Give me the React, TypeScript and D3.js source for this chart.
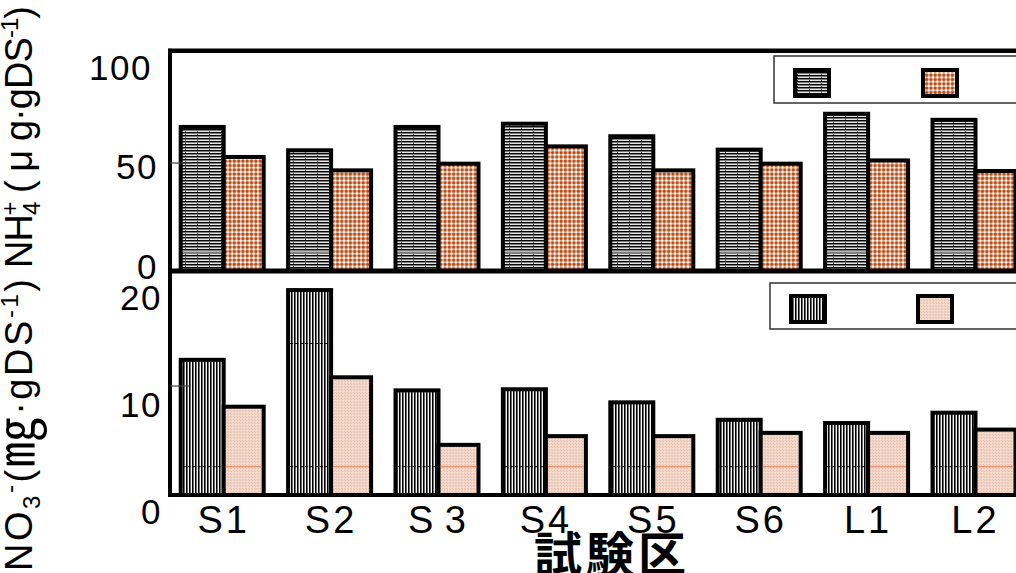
import React from "react";
import * as d3 from "d3";

// ---------- data ----------
const categories = ["S1", "S2", "S3", "S4", "S5", "S6", "L1", "L2"];
const xTickLabels = ["S1", "S2", "S 3", "S4", "S5", "S6", "L1", "L2"];
const nh4Series1 = [66.7, 55.9, 66.7, 68.2, 62.4, 56.2, 72.8, 70.0];
const nh4Series2 = [52.8, 46.6, 49.7, 57.7, 46.6, 49.7, 51.2, 46.3];
const no3Series1 = [12.4, 18.8, 9.6, 9.7, 8.5, 6.9, 6.6, 7.55];
const no3Series2 = [8.1, 10.8, 4.6, 5.4, 5.4, 5.7, 5.7, 6.0];
const nh4Ticks = [0, 50, 100];
const no3Ticks = [0, 10, 20];
const nh4HiddenGrid = [8.9];
const no3HiddenGrid = [2.6, 13.9];

const W = 1016;
const H = 573;
const FONT = "'Liberation Sans', Arial, sans-serif";

const x = d3.scaleBand<string>().domain(categories).range([170, 1029.2]).padding(0);
const yTop = d3.scaleLinear().domain([0, 102]).range([271, 50.7]);
const yBot = d3.scaleLinear().domain([0, 20.55]).range([495, 271]);
const yTopLab = d3.scaleLinear().domain([0, 100]).range([266, 67]);
const yBotLab = d3.scaleLinear().domain([0, 20]).range([511, 297]);

const DARK_W = 43;
const LIGHT_W = 40;

function Patterns() {
  return (
    <defs>
      <pattern id="pHoriz" patternUnits="userSpaceOnUse" width="12" height="3">
        <rect width="12" height="3" fill="#7a7a7a" />
        <rect y="0" width="12" height="1" fill="#0a0a0a" />
        <rect y="2" width="12" height="1" fill="#e4e4e4" />
        <rect x="5" y="2" width="1" height="1" fill="#444" />
      </pattern>
      <pattern id="pDots" patternUnits="userSpaceOnUse" width="4.3" height="4.3">
        <rect width="4.3" height="4.3" fill="#fff" />
        <rect x="1.1" y="0.4" width="2" height="3.5" fill="#b8480f" />
        <rect x="0.4" y="1.1" width="3.5" height="2" fill="#b8480f" />
      </pattern>
      <pattern id="pVert" patternUnits="userSpaceOnUse" width="3" height="10">
        <rect width="3" height="10" fill="#6a6a6a" />
        <rect x="0" width="1" height="10" fill="#000" />
        <rect x="2" width="1" height="10" fill="#f4f4f4" />
      </pattern>
      <pattern id="pPink" patternUnits="userSpaceOnUse" width="3" height="3">
        <rect width="3" height="3" fill="#f1d6c8" />
        <rect x="0" y="0" width="1" height="1" fill="#e6bfac" />
        <rect x="1" y="1" width="1" height="1" fill="#f7e4da" />
        <rect x="2" y="2" width="1" height="1" fill="#e6bfac" />
      </pattern>
    </defs>
  );
}

type PanelProps = {
  y: d3.ScaleLinear<number, number>;
  s1: number[];
  s2: number[];
  fill1: string;
  fill2: string;
  grid: number[];
  grid1Style: React.SVGProps<SVGLineElement>;
  grid2Style: React.SVGProps<SVGLineElement> | null;
};

function Panel({ y, s1, s2, fill1, fill2, grid, grid1Style, grid2Style }: PanelProps) {
  return (
    <g>
      {categories.map((cat, i) => {
        const c = (x(cat) as number) + x.bandwidth() / 2;
        const v1 = s1[i];
        const v2 = s2[i];
        const dx = c - DARK_W;
        const lx = c;
        return (
          <g key={cat}>
            <rect x={dx} y={y(v1)} width={DARK_W} height={y(0) - y(v1)} fill={fill1} stroke="#000" strokeWidth={4} />
            {grid.filter((g) => g < v1).map((g) => (
              <line key={"a" + g} x1={dx + 2} x2={dx + DARK_W - 2} y1={y(g)} y2={y(g)} {...grid1Style} />
            ))}
            <rect x={lx} y={y(v2)} width={LIGHT_W} height={y(0) - y(v2)} fill={fill2} stroke="#000" strokeWidth={4} />
            {grid2Style && grid.filter((g) => g < v2).map((g) => (
              <line key={"b" + g} x1={lx + 2} x2={lx + LIGHT_W - 2} y1={y(g)} y2={y(g)} {...grid2Style} />
            ))}
          </g>
        );
      })}
    </g>
  );
}

function Legend({ bx, by, bh, s1x, s2x, sy, fill1, fill2 }: any) {
  return (
    <g>
      <rect x={bx} y={by} width={W - bx + 20} height={bh} fill="#fff" stroke="#333" strokeWidth={1.5} />
      <rect x={s1x + 2} y={sy + 2} width={34} height={26} fill={fill1} stroke="#000" strokeWidth={4} />
      <rect x={s2x + 2} y={sy + 2} width={34} height={26} fill={fill2} stroke="#000" strokeWidth={4} />
    </g>
  );
}

export default function App() {
  const left = 170;
  return (
    <div style={{ position: "absolute", left: 0, top: 0 }}>
      <svg width={W} height={H} viewBox={`0 0 ${W} ${H}`} style={{ display: "block", background: "#fff" }}>
        <Patterns />
        <rect width={W} height={H} fill="#fff" />

        {/* NH4 panel */}
        <Panel
          y={yTop}
          s1={nh4Series1}
          s2={nh4Series2}
          fill1="url(#pHoriz)"
          fill2="url(#pDots)"
          grid={nh4HiddenGrid}
          grid1Style={{ stroke: "#b0b0b0", strokeWidth: 2 }}
          grid2Style={null}
        />
        {/* NO3 panel */}
        <Panel
          y={yBot}
          s1={no3Series1}
          s2={no3Series2}
          fill1="url(#pVert)"
          fill2="url(#pPink)"
          grid={no3HiddenGrid}
          grid1Style={{ stroke: "#000", strokeWidth: 1, strokeDasharray: "3,2" }}
          grid2Style={{ stroke: "#e0875c", strokeWidth: 1 }}
        />

        {/* frame */}
        <line x1={left - 2} x2={W + 10} y1={yTop(102)} y2={yTop(102)} stroke="#000" strokeWidth={4.5} />
        <line x1={left - 2} x2={W + 10} y1={yTop(0)} y2={yTop(0)} stroke="#000" strokeWidth={5} />
        <line x1={left - 2} x2={W + 10} y1={yBot(0)} y2={yBot(0)} stroke="#000" strokeWidth={4} />
        <line x1={left} x2={left} y1={yTop(102) - 2} y2={yBot(0) + 2} stroke="#000" strokeWidth={4} />

        {/* interior ticks */}
        {nh4Ticks.slice(1, -1).map((t) => (
          <line key={"tt" + t} x1={left} x2={left + 22} y1={yTop(t)} y2={yTop(t)} stroke="#444" strokeWidth={1.2} />
        ))}
        {no3Ticks.slice(1, -1).map((t) => (
          <line key={"bt" + t} x1={left} x2={left + 21} y1={yBot(t)} y2={yBot(t)} stroke="#444" strokeWidth={1.2} />
        ))}

        {/* tick labels */}
        {nh4Ticks.map((t) => (
          <text key={"tl" + t} x={t === 100 ? 152 : 158} y={yTopLab(t)} dominantBaseline="central" textAnchor="end"
            fontFamily={FONT} fontSize={35} letterSpacing={1.5} fill="#000">{t}</text>
        ))}
        {no3Ticks.map((t) => (
          <text key={"bl" + t} x={162} y={yBotLab(t)} dominantBaseline="central" textAnchor="end"
            fontFamily={FONT} fontSize={35} letterSpacing={1.5} fill="#000">{t}</text>
        ))}

        {/* x labels */}
        {categories.map((cat, i) => (
          <text key={"xl" + cat} x={(x(cat) as number) + x.bandwidth() / 2} y={532.7} textAnchor="middle"
            fontFamily={FONT} fontSize={38} letterSpacing={3} wordSpacing={-5} fill="#000">{xTickLabels[i]}</text>
        ))}

        {/* x title */}
        <text x={534} y={572} fontFamily="'Noto Sans CJK JP', sans-serif" fontWeight={700} fontSize={48} letterSpacing={4} fill="#000">試験区</text>

        {/* y title */}
        <text transform="translate(32,571) rotate(-90)" fontFamily={FONT} fontSize={38} textLength={292} lengthAdjust="spacing" fill="#000">
          NO<tspan fontSize={24} dy={8}>3</tspan><tspan fontSize={24} dy={-22}>-</tspan><tspan dy={14}>(</tspan><tspan fontFamily="'Noto Sans CJK JP', sans-serif" fontSize={50} dy={2}>㎎</tspan><tspan dy={-2}>·gDS</tspan><tspan fontSize={24} dy={-14}>-1</tspan><tspan dy={14}>)</tspan>
        </text>
        <text transform="translate(32,268) rotate(-90)" fontFamily={FONT} fontSize={38} textLength={262} lengthAdjust="spacing" fill="#000">
          NH<tspan fontSize={24} dy={8}>4</tspan><tspan fontSize={24} dy={-22} dx={-13}>+</tspan><tspan dy={14}> ( μ g·gDS</tspan><tspan fontSize={24} dy={-14}>-1</tspan><tspan dy={14}>)</tspan>
        </text>

        {/* legends */}
        <Legend bx={774} by={56} bh={47} s1x={793} s2x={921} sy={68} fill1="url(#pHoriz)" fill2="url(#pDots)" />
        <Legend bx={770} by={283} bh={46} s1x={789} s2x={916} sy={294} fill1="url(#pVert)" fill2="url(#pPink)" />
      </svg>
    </div>
  );
}
